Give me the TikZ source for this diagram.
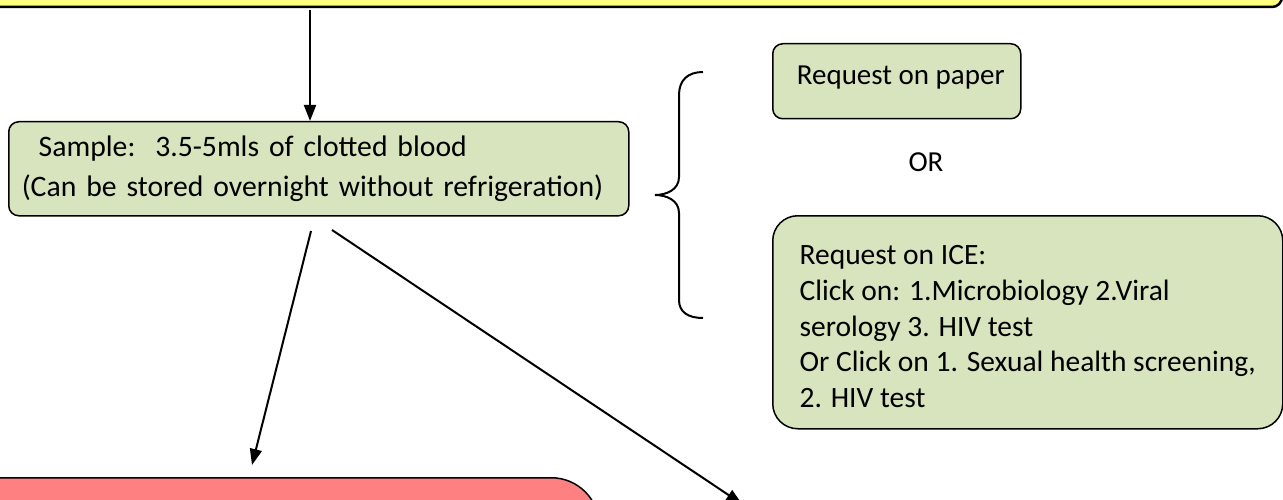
\documentclass[tikz,border=0pt]{standalone}
\usepackage{fontspec}
\setmainfont{Carlito}
\usetikzlibrary{arrows.meta}
\definecolor{boxgreen}{HTML}{D7E4BD}
\definecolor{boxyellow}{HTML}{FFFF80}
\definecolor{boxred}{HTML}{FF8080}
\tikzset{
  greenbox/.style={draw=black, line width=1.5pt, fill=boxgreen, rounded corners=10pt, inner sep=0pt},
  flowarrow/.style={line width=2pt, -{Triangle[length=16pt,width=12pt]}},
  bracepath/.style={line width=2pt},
}
\begin{document}
\begin{tikzpicture}[x=1pt,y=-1pt]
\useasboundingbox (0,0) rectangle (1283,500);
% top yellow box
\draw[line width=2.5pt, fill=boxyellow, rounded corners=10pt] (-40,-60) rectangle (1282,7);
\coordinate (top) at (310,10);
% sample box
\node[greenbox, anchor=north west, minimum width=620pt, minimum height=94pt,
      text width=600pt, inner xsep=10pt, align=left,
      font=\fontsize{29.7}{40}\selectfont] (sample) at (8,121)
  {\hspace*{20pt}Sample:\ \ 3.5-5mls of clotted blood\\\hspace*{3pt}(Can be stored overnight without refrigeration)};
% request on paper
\node[greenbox, anchor=north west, minimum width=248pt, minimum height=75pt,
      text depth=12pt, font=\fontsize{29}{35}\selectfont] (paper) at (772,43)
  {\hspace*{8pt}Request on paper};
\node[font=\fontsize{29}{35}\selectfont] (or) at (926,162) {OR};
% request on ICE
\node[greenbox, rounded corners=25pt, anchor=north west, minimum width=510pt, minimum height=213pt,
      align=left, font=\fontsize{29.5}{35.75}\selectfont] (ice) at (772,215)
  {\rule{0pt}{28pt}Request on ICE:\\Click on: 1.Microbiology 2.Viral\\serology 3. HIV test\\Or Click on 1. Sexual health screening,\\2. HIV test};
% brace
\draw[bracepath] (703,72) .. controls (688,72) and (679,80) .. (679,95) -- (679,177)
  .. controls (679,190) and (666,195) .. (655,195)
  .. controls (666,195) and (679,200) .. (679,213) -- (679,300)
  .. controls (679,312) and (688,318) .. (703,318);
% red box
\node[draw=black, line width=1.5pt, fill=boxred, rounded corners=48pt, anchor=north east,
      minimum width=700pt, minimum height=120pt] (red) at (600,477) {};
% arrows
\draw[flowarrow] (top) -- (top |- sample.north);
\coordinate (s1) at (311,231);
\coordinate (r1) at (252,465);
\coordinate (s2) at (332,230);
\coordinate (e2) at (742,504);
\draw[flowarrow] (s1) -- (r1);
\draw[flowarrow] (s2) -- (e2);
\end{tikzpicture}
\end{document}
